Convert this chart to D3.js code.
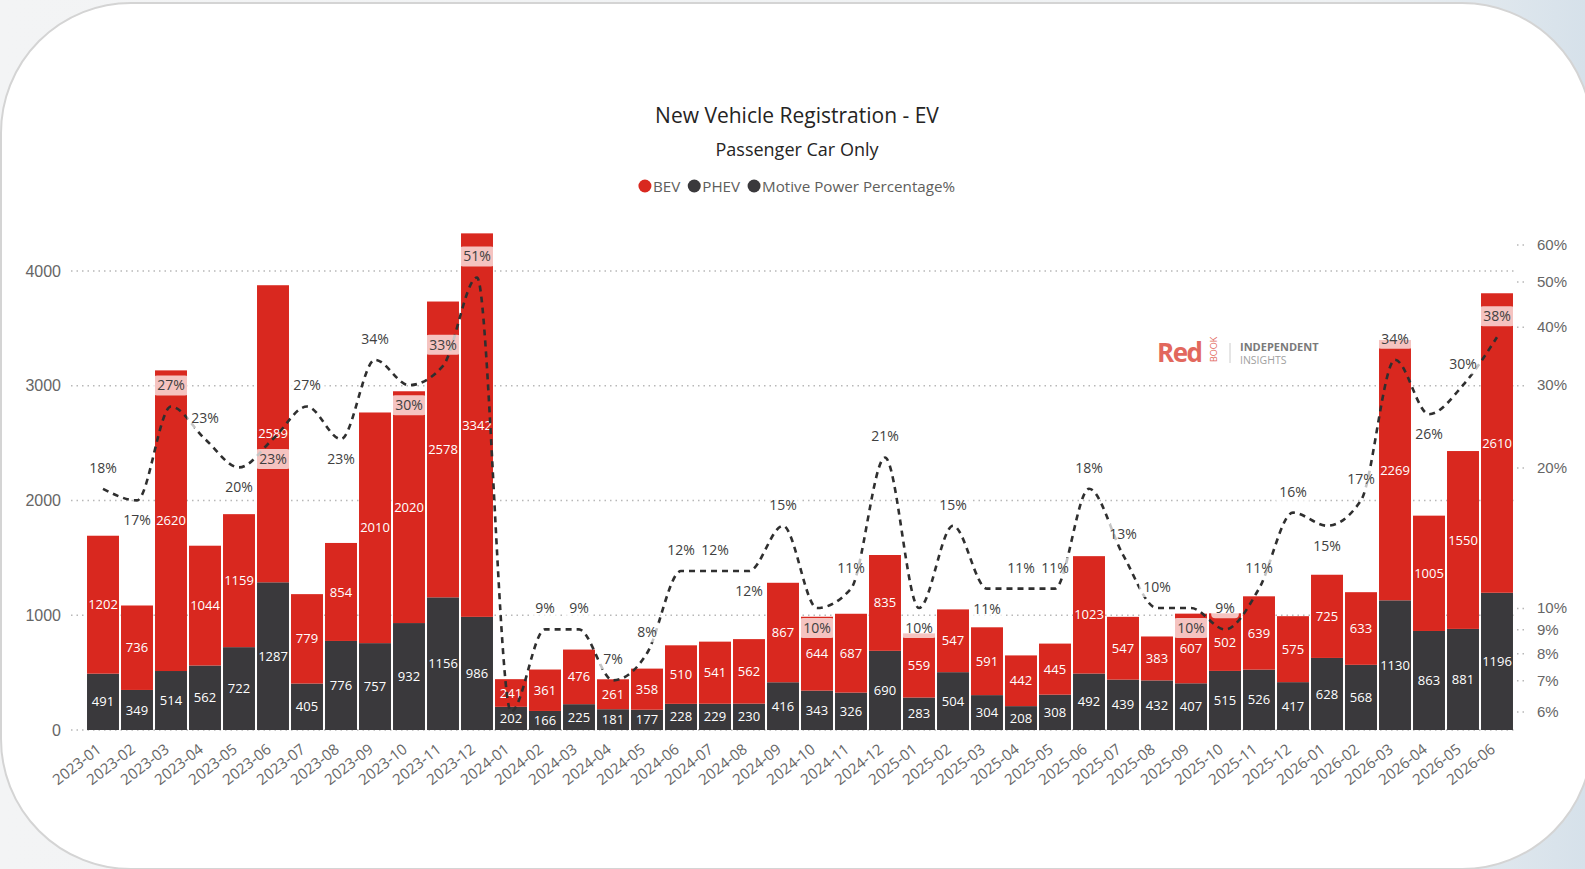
<!DOCTYPE html>
<html>
<head>
<meta charset="utf-8">
<script src="https://cdn.jsdelivr.net/npm/d3@7"></script>
<style>
  body { margin: 0; background: #eef1f4; }
  svg { display: block; font-family: "Open Sans", "Noto Sans", sans-serif; }
</style>
</head>
<body>
<svg id="chart" width="1585" height="869"></svg>
<script>
// months on the x axis
var months = ["2023-01","2023-02","2023-03","2023-04","2023-05","2023-06","2023-07","2023-08","2023-09","2023-10","2023-11","2023-12",
              "2024-01","2024-02","2024-03","2024-04","2024-05","2024-06","2024-07","2024-08","2024-09","2024-10","2024-11","2024-12",
              "2025-01","2025-02","2025-03","2025-04","2025-05","2025-06","2025-07","2025-08","2025-09","2025-10","2025-11","2025-12",
              "2026-01","2026-02","2026-03","2026-04","2026-05","2026-06"];
var phev = [491,349,514,562,722,1287,405,776,757,932,1156,986,
            202,166,225,181,177,228,229,230,416,343,326,690,
            283,504,304,208,308,492,439,432,407,515,526,417,
            628,568,1130,863,881,1196];
var bev = [1202,736,2620,1044,1159,2589,779,854,2010,2020,2578,3342,
           241,361,476,261,358,510,541,562,867,644,687,835,
           559,547,591,442,445,1023,547,383,607,502,639,575,
           725,633,2269,1005,1550,2610];
// Motive Power Percentage (%)
var share = [18,17,27,23,20,23,27,23,34,30,33,51,
             6,9,9,7,8,12,12,12,15,10,11,21,
             10,15,11,11,11,18,13,10,10,9,11,16,
             15,17,34,26,30,38];
var leftTicks = [0,1000,2000,3000,4000];
var rightTicks = [6,7,8,9,10,20,30,40,50,60];

var svg = d3.select("svg#chart");

// backdrop + card
var defs = svg.append("defs");
var grad = defs.append("linearGradient").attr("id", "bg").attr("x1", "0").attr("x2", "1").attr("y1", "0").attr("y2", "0");
grad.append("stop").attr("offset", "0").attr("stop-color", "#f3f4f5");
grad.append("stop").attr("offset", "0.85").attr("stop-color", "#eef1f3");
grad.append("stop").attr("offset", "1").attr("stop-color", "#d6e1ea");
svg.append("rect").attr("width", 1585).attr("height", 869).attr("fill", "url(#bg)");
svg.append("rect")
    .attr("x", 1).attr("y", 3).attr("width", 1591).attr("height", 866).attr("rx", 130)
    .attr("fill", "#ffffff").attr("stroke", "#d4d4d4").attr("stroke-width", 2);

// scales
var x = d3.scaleBand().domain(months).range([86, 1514]).paddingInner(0.06).paddingOuter(0.03);
var y = d3.scaleLinear().domain([0, 4000]).range([730, 271]);
var yr = d3.scaleLog().domain([6, 60]).range([711.6, 244.6]);
var cx = d => x(d) + x.bandwidth() / 2;

// titles
svg.append("text").attr("x", 797).attr("y", 123).attr("text-anchor", "middle")
    .style("font-size", "21px").attr("fill", "#252423").text("New Vehicle Registration - EV");
svg.append("text").attr("x", 797).attr("y", 156).attr("text-anchor", "middle")
    .style("font-size", "18px").attr("fill", "#252423").text("Passenger Car Only");

// legend
var legendItems = [{ name: "BEV", color: "#d9281f" }, { name: "PHEV", color: "#3a393c" }, { name: "Motive Power Percentage%", color: "#3a393c" }];
var legend = svg.append("g");
var lx = 0;
legendItems.forEach(item => {
    var g = legend.append("g").attr("transform", "translate(" + lx + ",0)");
    g.append("circle").attr("cx", 6).attr("cy", 186).attr("r", 6.5).attr("fill", item.color);
    var t = g.append("text").attr("x", 14).attr("y", 191.5).style("font-size", "15.2px").attr("fill", "#605e5c").text(item.name);
    lx += 14 + t.node().getComputedTextLength() + 8;
});
legend.attr("transform", "translate(" + (797 - (lx - 8) / 2) + ",0)");

// gridlines + left axis
var grid = svg.append("g");
grid.selectAll("line").data(leftTicks).enter().append("line")
    .attr("x1", 71).attr("x2", 1516)
    .attr("y1", d => y(d)).attr("y2", d => y(d))
    .attr("stroke", "#b8b8b8").attr("stroke-width", 1.5).attr("stroke-dasharray", "1.5,4");

var yAxis = svg.append("g").attr("transform", "translate(61,0)")
    .call(d3.axisLeft(y).tickValues(leftTicks).tickSize(0).tickPadding(0).tickFormat(d3.format("d")));
yAxis.select(".domain").remove();
yAxis.selectAll("text").style("font-size", "16px").attr("fill", "#666").style("font-family", "inherit");

// right axis (log)
var rAxis = svg.append("g").attr("transform", "translate(1517,0)")
    .call(d3.axisRight(yr).tickValues(rightTicks).tickSize(0).tickPadding(20).tickFormat(d => d + "%"));
rAxis.select(".domain").remove();
rAxis.selectAll("text").style("font-size", "15px").attr("fill", "#666").style("font-family", "inherit");
rAxis.selectAll(".tick").append("line").attr("x1", 0).attr("x2", 10)
    .attr("stroke", "#b8b8b8").attr("stroke-width", 1.5).attr("stroke-dasharray", "1.5,4");

// x axis labels
svg.append("g").selectAll("text").data(months).enter().append("text")
    .attr("transform", d => "translate(" + (cx(d) - 4) + ",747) rotate(-38)")
    .attr("text-anchor", "end").attr("dy", "0.35em")
    .style("font-size", "15px").attr("fill", "#666").text(d => d);

// logo
var logo = svg.append("g");
logo.append("text").attr("x", 1157).attr("y", 362).style("font-size", "26px").style("font-weight", "bold")
    .style("letter-spacing", "-1.5px").attr("fill", "#e2685d").text("Red");
logo.append("text").attr("transform", "translate(1217,362) rotate(-90)").style("font-size", "9px")
    .attr("fill", "#e2685d").text("BOOK");
logo.append("line").attr("x1", 1230).attr("x2", 1230).attr("y1", 343).attr("y2", 363).attr("stroke", "#ccc");
logo.append("text").attr("x", 1240).attr("y", 351).style("font-size", "11px").style("font-weight", "bold")
    .attr("fill", "#7a7a7a").text("INDEPENDENT");
logo.append("text").attr("x", 1240).attr("y", 364).style("font-size", "10.5px")
    .attr("fill", "#a0a0a0").text("INSIGHTS");

// bars
var rows = months.map((m, i) => ({ month: m, phev: phev[i], bev: bev[i], share: share[i] }));
var bars = svg.append("g");
bars.selectAll("rect.phev").data(rows).enter().append("rect").attr("class", "phev")
    .attr("x", d => x(d.month)).attr("width", x.bandwidth())
    .attr("y", d => y(d.phev)).attr("height", d => y(0) - y(d.phev))
    .attr("fill", "#3a393c");
bars.selectAll("rect.bev").data(rows).enter().append("rect").attr("class", "bev")
    .attr("x", d => x(d.month)).attr("width", x.bandwidth())
    .attr("y", d => y(d.phev + d.bev)).attr("height", d => y(d.phev) - y(d.phev + d.bev))
    .attr("fill", "#d9281f");

// bar labels
var barLabels = svg.append("g").style("font-size", "13px").attr("fill", "#fff").attr("text-anchor", "middle");
barLabels.selectAll("text.p").data(rows).enter().append("text")
    .attr("x", d => cx(d.month)).attr("y", d => (y(0) + y(d.phev)) / 2).attr("dy", "0.35em").text(d => d.phev);
barLabels.selectAll("text.b").data(rows).enter().append("text")
    .attr("x", d => cx(d.month)).attr("y", d => (y(d.phev) + y(d.phev + d.bev)) / 2).attr("dy", "0.35em").text(d => d.bev);

// percentage line
var line = d3.line().x(d => cx(d.month)).y(d => yr(d.share)).curve(d3.curveMonotoneX);
svg.append("path").datum(rows).attr("d", line)
    .attr("fill", "none").attr("stroke", "#2f2f2f").attr("stroke-width", 2.6).attr("stroke-dasharray", "6,5");

// percentage labels: some sit below the line, one is hidden (as in the report)
var below = [2, 5, 6, 8, 10, 20, 22, 25, 27, 33, 37, 40];
var hidden = [13];
var pl = svg.append("g");
rows.forEach((d, i) => {
    if (hidden.indexOf(i + 1) >= 0) return;
    var ly = yr(d.share) + (below.indexOf(i + 1) >= 0 ? 20 : -21);
    var g = pl.append("g");
    var t = g.append("text").attr("x", cx(d.month)).attr("y", ly).attr("dy", "0.35em")
        .attr("text-anchor", "middle").style("font-size", "14px").attr("fill", "#404040").text(d.share + "%");
    var bb = t.node().getBBox();
    g.insert("rect", "text").attr("x", bb.x - 4).attr("y", ly - 10).attr("width", bb.width + 8).attr("height", 20)
        .attr("rx", 4).attr("fill", "#fff").attr("fill-opacity", 0.72);
});
</script>
</body>
</html>
